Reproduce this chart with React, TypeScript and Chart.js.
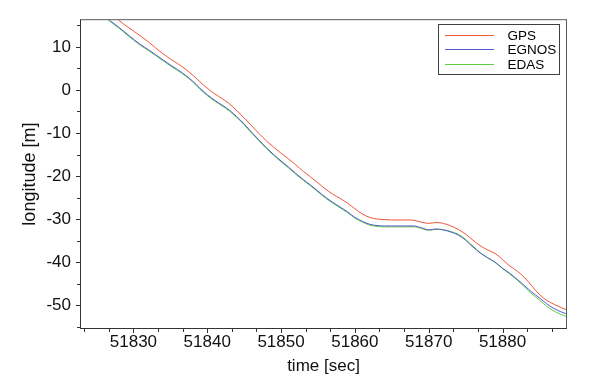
import React, { useEffect, useRef } from "react";
import { Chart, registerables } from "chart.js";

Chart.register(...registerables);

// time axis [sec]
const times = [
  51824, 51825, 51826, 51827, 51828, 51829, 51830, 51831, 51832, 51833,
  51834, 51835, 51836, 51837, 51838, 51839, 51840, 51841, 51842, 51843,
  51844, 51845, 51846, 51847, 51848, 51849, 51850, 51851, 51852, 51853,
  51854, 51855, 51856, 51857, 51858, 51859, 51860, 51861, 51862, 51863,
  51864, 51865, 51866, 51867, 51868, 51869, 51870, 51871, 51872, 51873,
  51874, 51875, 51876, 51877, 51878, 51879, 51880, 51881, 51882, 51883,
  51884, 51885, 51886, 51887, 51888, 51889,
];

// longitude [m]
const gps = [
  21.2, 20.0, 18.7, 17.5, 16.2, 14.9, 13.7, 12.5, 11.2, 9.8,
  8.4, 7.2, 6.1, 4.9, 3.5, 1.9, 0.4, -0.9, -2.0, -3.2,
  -4.8, -6.5, -8.3, -10.1, -11.8, -13.3, -14.7, -16.0, -17.4, -18.9,
  -20.2, -21.6, -23.0, -24.2, -25.2, -26.3, -27.6, -28.8, -29.6, -30.0,
  -30.1, -30.2, -30.2, -30.2, -30.3, -30.7, -31.0, -30.8, -31.0, -31.6,
  -32.4, -33.5, -34.9, -36.2, -37.2, -38.0, -39.4, -40.9, -42.1, -43.6,
  -45.6, -47.5, -48.9, -49.8, -50.6, -51.3,
];

const egnos = [
  19.6, 18.4, 17.2, 15.9, 14.6, 13.2, 11.8, 10.5, 9.4, 8.2,
  7.0, 5.8, 4.7, 3.5, 2.1, 0.4, -1.1, -2.4, -3.5, -4.7,
  -6.2, -7.9, -9.8, -11.6, -13.4, -15.0, -16.5, -17.9, -19.4, -20.8,
  -22.1, -23.5, -24.9, -26.1, -27.2, -28.3, -29.6, -30.5, -31.2, -31.5,
  -31.6, -31.6, -31.6, -31.6, -31.6, -32.0, -32.5, -32.3, -32.5, -33.0,
  -33.7, -34.9, -36.5, -37.9, -39.0, -40.0, -41.4, -42.6, -44.0, -45.5,
  -47.0, -48.3, -49.7, -50.8, -51.6, -52.2,
];

const edas = [
  19.4, 18.2, 17.0, 15.7, 14.4, 13.0, 11.6, 10.3, 9.2, 8.0,
  6.8, 5.6, 4.5, 3.3, 1.9, 0.2, -1.3, -2.6, -3.7, -4.9,
  -6.4, -8.1, -10.0, -11.8, -13.6, -15.2, -16.7, -18.1, -19.6, -21.0,
  -22.3, -23.7, -25.1, -26.3, -27.4, -28.5, -29.8, -30.7, -31.4, -31.7,
  -31.8, -31.8, -31.8, -31.8, -31.8, -32.2, -32.6, -32.4, -32.5, -32.9,
  -33.5, -34.7, -36.3, -37.8, -39.0, -40.1, -41.5, -42.8, -44.2, -45.8,
  -47.4, -48.8, -50.3, -51.4, -52.2, -52.8,
];

const seriesLabels = ["GPS", "EGNOS", "EDAS"];
const xTickValues = [51830, 51840, 51850, 51860, 51870, 51880];
const yTickValues = [10, 0, -10, -20, -30, -40, -50];
const xMinorStep = 10 / 3;
const yMinorStep = 5;
const xMin = 51822.9;
const xMax = 51888.6;
const yMin = -55.3;
const yMax = 16.2;

const COLORS = ["#f05535", "#4f5ccc", "#5fcc45"];
const FONT = "'Liberation Sans', Arial, sans-serif";

const frameAndTicks = {
  id: "frameAndTicks",
  afterDatasetsDraw(chart: any) {
    const { ctx, chartArea } = chart;
    const { left, right, top, bottom } = chartArea;
    const xs = chart.scales.x;
    const ys = chart.scales.y;
    ctx.save();
    ctx.strokeStyle = "#5a5a5a";
    ctx.lineWidth = 1;
    ctx.strokeRect(left - 0.5, top - 0.5, right - left + 1, bottom - top + 1);
    ctx.strokeStyle = "#333";
    ctx.beginPath();
    ctx.moveTo(left - 0.5, top - 0.5);
    ctx.lineTo(left - 0.5, bottom + 0.5);
    ctx.lineTo(right + 0.5, bottom + 0.5);
    ctx.stroke();
    ctx.beginPath();
    const firstX = xTickValues[0] - Math.floor((xTickValues[0] - xMin) / xMinorStep) * xMinorStep;
    for (let v = firstX; v <= xMax + 1e-6; v += xMinorStep) {
      const px = Math.round(xs.getPixelForValue(v)) + 0.5;
      const isMajor = xTickValues.some((t) => Math.abs(t - v) < 1e-6);
      ctx.moveTo(px, bottom + 1);
      ctx.lineTo(px, bottom + (isMajor ? 5 : 4));
    }
    const lastY = yTickValues[yTickValues.length - 1];
    const firstY = lastY - Math.floor((lastY - yMin) / yMinorStep) * yMinorStep;
    for (let v = firstY; v <= yMax + 1e-6; v += yMinorStep) {
      const py = Math.round(ys.getPixelForValue(v)) + 0.5;
      const isMajor = yTickValues.some((t) => Math.abs(t - v) < 1e-6);
      ctx.moveTo(left - 1, py);
      ctx.lineTo(left - (isMajor ? 5 : 4), py);
    }
    ctx.stroke();
    ctx.restore();
  },
  afterDraw(chart: any) {
    const { ctx, chartArea } = chart;
    const bx = Math.round(chartArea.right - 128) + 0.5;
    const by = Math.round(chartArea.top + 4) + 0.5;
    const bw = 121;
    const bh = 50;
    ctx.save();
    ctx.fillStyle = "#fff";
    ctx.fillRect(bx, by, bw, bh);
    ctx.strokeStyle = "#404040";
    ctx.lineWidth = 1;
    ctx.strokeRect(bx, by, bw, bh);
    ctx.font = `13.5px ${FONT}`;
    ctx.textBaseline = "middle";
    ctx.textAlign = "left";
    seriesLabels.forEach((label, i) => {
      const y = Math.round(by + 10 + i * 14.5);
      ctx.fillStyle = COLORS[i];
      ctx.fillRect(Math.round(bx + 6), y, 49, 1);
      ctx.fillStyle = "#000";
      ctx.fillText(label, bx + 69, y + 1);
    });
    ctx.restore();
  },
};

export default function App() {
  const ref = useRef<HTMLCanvasElement | null>(null);

  useEffect(() => {
    document.body.style.margin = "0";
    const canvas = ref.current;
    if (!canvas) return;
    const series = [gps, egnos, edas];
    const chart = new Chart(canvas, {
      type: "line",
      data: {
        datasets: series.map((vals, i) => ({
          label: seriesLabels[i],
          data: times.map((t, j) => ({ x: t, y: vals[j] })),
          borderColor: COLORS[i],
          backgroundColor: COLORS[i],
          borderWidth: 1,
          pointRadius: 0,
          fill: false,
          cubicInterpolationMode: "monotone" as const,
        })),
      },
      options: {
        animation: false,
        responsive: false,
        devicePixelRatio: 1,
        layout: { padding: { top: 17, right: 27, left: 0, bottom: 0 } },
        plugins: {
          legend: { display: false },
          tooltip: { enabled: false },
        },
        scales: {
          x: {
            type: "linear",
            min: xMin,
            max: xMax,
            afterBuildTicks: (s: any) => {
              s.ticks = xTickValues.map((v) => ({ value: v }));
            },
            afterFit: (s: any) => {
              s.height = 58;
            },
            grid: { display: false, drawTicks: false },
            border: { display: false },
            ticks: {
              autoSkip: false,
              maxRotation: 0,
              padding: 4,
              color: "#111",
              font: { family: FONT, size: 17 },
              callback: (v: any) => String(v),
            },
            title: {
              display: true,
              text: "time [sec]",
              color: "#111",
              font: { family: FONT, size: 17 },
              padding: { top: 0, bottom: 9 },
            },
          },
          y: {
            type: "linear",
            min: yMin,
            max: yMax,
            afterBuildTicks: (s: any) => {
              s.ticks = yTickValues.map((v) => ({ value: v }));
            },
            afterFit: (s: any) => {
              s.width = 81;
            },
            grid: { display: false, drawTicks: false },
            border: { display: false },
            ticks: {
              autoSkip: false,
              padding: 10,
              color: "#111",
              font: { family: FONT, size: 17 },
              callback: (v: any) => String(v),
            },
            title: {
              display: true,
              text: "longitude [m]",
              color: "#111",
              font: { family: FONT, size: 18 },
              padding: { top: 19, bottom: 0 },
            },
          },
        },
      },
      plugins: [frameAndTicks],
    });
    return () => chart.destroy();
  }, []);

  return (
    <div style={{ position: "fixed", left: 0, top: 0, width: 593, height: 386, background: "#fff" }}>
      <canvas ref={ref} width={593} height={386} style={{ display: "block" }} />
    </div>
  );
}
